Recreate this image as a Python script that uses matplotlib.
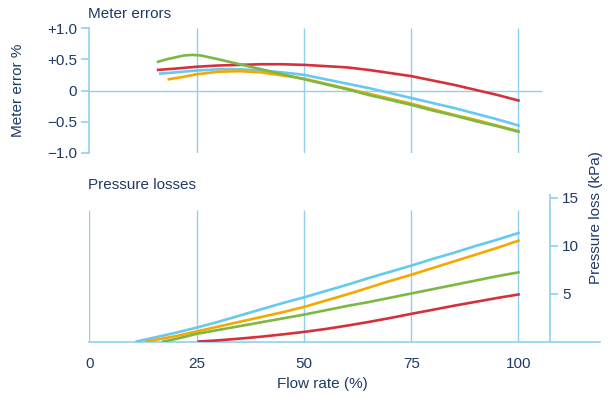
import numpy as np
import matplotlib
matplotlib.use('Agg')
from matplotlib import pyplot as plt

plt.rcParams['font.family'] = ['Liberation Sans', 'DejaVu Sans']

# meter error (%) vs flow rate (%)
err_red_x = [16, 20, 25, 30, 35, 40, 45, 50, 55, 60, 65, 70, 75, 80, 85, 90, 95, 100]
err_red_y = [0.33, 0.35, 0.38, 0.40, 0.41, 0.42, 0.42, 0.41, 0.39, 0.37, 0.33, 0.28, 0.23, 0.16, 0.09, 0.01, -0.07, -0.16]
err_cyan_x = [16.5, 20, 25, 30, 35, 40, 45, 50, 55, 60, 65, 70, 75, 80, 85, 90, 95, 100]
err_cyan_y = [0.27, 0.29, 0.32, 0.34, 0.34, 0.32, 0.29, 0.25, 0.18, 0.11, 0.04, -0.04, -0.12, -0.20, -0.28, -0.37, -0.46, -0.56]
err_orange_x = [18.5, 22, 25, 30, 35, 40, 45, 50, 55, 60, 65, 70, 75, 80, 85, 90, 95, 100]
err_orange_y = [0.18, 0.22, 0.26, 0.30, 0.31, 0.29, 0.24, 0.19, 0.11, 0.03, -0.05, -0.13, -0.21, -0.30, -0.39, -0.47, -0.56, -0.65]
err_green_x = [16, 18, 20, 22, 24, 26, 28, 30, 35, 40, 45, 50, 55, 60, 65, 70, 75, 80, 85, 90, 95, 100]
err_green_y = [0.46, 0.50, 0.53, 0.56, 0.57, 0.56, 0.53, 0.50, 0.42, 0.34, 0.26, 0.18, 0.10, 0.02, -0.07, -0.15, -0.23, -0.32, -0.40, -0.49, -0.57, -0.66]

# pressure loss (kPa) vs flow rate (%)
dp_cyan_x = [11, 15, 20, 25, 30, 35, 40, 45, 50, 55, 60, 65, 70, 75, 80, 85, 90, 95, 100]
dp_cyan_y = [0, 0.4, 0.9, 1.45, 2.05, 2.7, 3.35, 4.0, 4.6, 5.25, 5.9, 6.6, 7.25, 7.9, 8.6, 9.25, 9.95, 10.6, 11.3]
dp_orange_x = [13.3, 20, 25, 30, 35, 40, 45, 50, 55, 60, 65, 70, 75, 80, 85, 90, 95, 100]
dp_orange_y = [0, 0.55, 1.05, 1.55, 2.05, 2.55, 3.05, 3.6, 4.25, 4.9, 5.6, 6.3, 6.95, 7.65, 8.35, 9.05, 9.75, 10.5]
dp_green_x = [17.2, 20, 25, 30, 35, 40, 45, 50, 55, 60, 65, 70, 75, 80, 85, 90, 95, 100]
dp_green_y = [0, 0.25, 0.8, 1.2, 1.6, 2.0, 2.4, 2.8, 3.25, 3.7, 4.1, 4.55, 5.0, 5.45, 5.9, 6.35, 6.8, 7.2]
dp_red_x = [25.5, 30, 35, 40, 45, 50, 55, 60, 65, 70, 75, 80, 85, 90, 95, 100]
dp_red_y = [0, 0.12, 0.3, 0.5, 0.74, 1.0, 1.3, 1.65, 2.03, 2.44, 2.88, 3.3, 3.73, 4.13, 4.53, 4.9]

flow_ticks = [0, 25, 50, 75, 100]
err_ticks = [-1.0, -0.5, 0, 0.5, 1.0]
err_labels = ['\u22121.0', '\u22120.5', '0', '+0.5', '+1.0']
dp_ticks = [5, 10, 15]

RED = '#d5313d'
ORANGE = '#f6a800'
GREEN = '#7cb843'
CYAN = '#66c9f1'
GRID = '#92cfee'
TEXT = '#1e3a66'
LW = 1.9

W, H = 609, 399
fig = plt.figure(figsize=(W / 100, H / 100), dpi=100)

def px_axes(x0, x1, ytop, ybot):
    return fig.add_axes([x0 / W, (H - ybot) / H, (x1 - x0) / W, (ybot - ytop) / H])

# top panel: meter errors
ax1 = px_axes(89.5, 600, 28, 153)
ax1.set_xlim(0, 119)
ax1.set_ylim(-1, 1)
ax1.patch.set_visible(False)
for s in ['top', 'right', 'bottom']:
    ax1.spines[s].set_visible(False)
ax1.spines['left'].set_color(GRID)
ax1.spines['left'].set_linewidth(1.2)
ax1.spines['left'].set_bounds(-1, 1)
ax1.set_xticks([])
ax1.set_yticks(err_ticks)
ax1.set_yticklabels(err_labels)
ax1.tick_params(axis='y', direction='out', length=6, width=1.2, color=GRID,
                labelcolor=TEXT, labelsize=11, pad=3)
ax1.hlines(0, 0, 105.5, color=GRID, lw=1.0, zorder=1)
ax1.vlines(flow_ticks[1:], -1, 1, color=GRID, lw=1.0, zorder=1)
ax1.plot(err_red_x, err_red_y, color=RED, lw=LW, zorder=3)
ax1.plot(err_cyan_x, err_cyan_y, color=CYAN, lw=LW, zorder=3)
ax1.plot(err_orange_x, err_orange_y, color=ORANGE, lw=LW, zorder=3)
ax1.plot(err_green_x, err_green_y, color=GREEN, lw=LW, zorder=3)

# bottom panel: pressure losses
ax2 = px_axes(89.5, 600, 192.7, 341.5)
ax2.set_xlim(0, 119)
ax2.set_ylim(0, 15.5)
ax2.patch.set_visible(False)
ax2.spines['top'].set_visible(False)
ax2.spines['left'].set_visible(False)
ax2.spines['bottom'].set_color(GRID)
ax2.spines['bottom'].set_linewidth(1.2)
ax2.spines['right'].set_position(('data', 107.3))
ax2.spines['right'].set_bounds(0, 15.3)
ax2.spines['right'].set_color(GRID)
ax2.spines['right'].set_linewidth(1.2)
ax2.yaxis.tick_right()
ax2.set_yticks(dp_ticks)
ax2.tick_params(axis='y', direction='out', length=6, width=1.2, color=GRID,
                labelcolor=TEXT, labelsize=11, pad=3)
ax2.set_xticks(flow_ticks)
ax2.tick_params(axis='x', length=0, labelcolor=TEXT, labelsize=11, pad=11)
ax2.vlines(flow_ticks, 0, 13.75, color=GRID, lw=1.0, zorder=1)
ax2.plot(dp_cyan_x, dp_cyan_y, color=CYAN, lw=LW, zorder=3)
ax2.plot(dp_orange_x, dp_orange_y, color=ORANGE, lw=LW, zorder=3)
ax2.plot(dp_green_x, dp_green_y, color=GREEN, lw=LW, zorder=3)
ax2.plot(dp_red_x, dp_red_y, color=RED, lw=LW, zorder=3)

fig.text(88 / W, 1 - 14 / H, 'Meter errors', color=TEXT, fontsize=11, va='center', ha='left')
fig.text(88 / W, 1 - 185 / H, 'Pressure losses', color=TEXT, fontsize=11, va='center', ha='left')
fig.text(18 / W, 1 - 90 / H, 'Meter error %', color=TEXT, fontsize=11, rotation=90, va='center', ha='center')
fig.text(596 / W, 1 - 218 / H, 'Pressure loss (kPa)', color=TEXT, fontsize=11, rotation=90, va='center', ha='center')
fig.text(322 / W, 1 - 384 / H, 'Flow rate (%)', color=TEXT, fontsize=11, va='center', ha='center')

fig.savefig('out.png', dpi=100)
